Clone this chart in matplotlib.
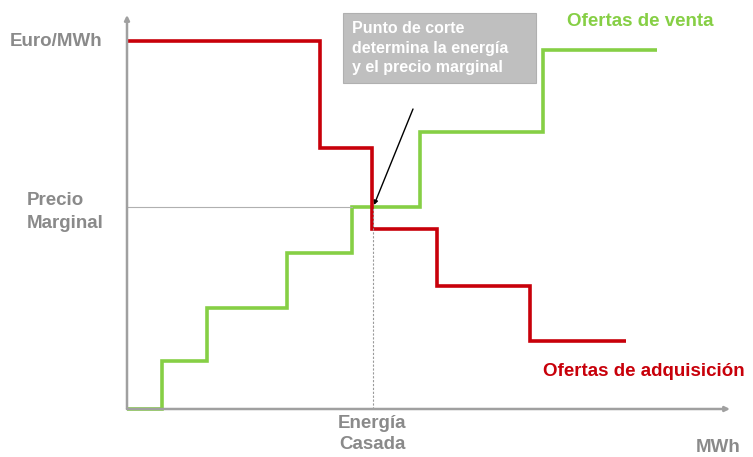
import matplotlib

matplotlib.use("Agg")
import matplotlib.pyplot as plt
from matplotlib.patches import Rectangle

plt.rcParams["font.family"] = ["Liberation Sans", "DejaVu Sans"]

# step curves (x = energy edges, y = price levels), units
venta_x = [0, 35, 80, 160, 225, 293, 416, 530]
venta_y = [0, 48, 101, 156, 202, 277, 359]
adq_x = [0, 193, 245, 310, 403, 499]
adq_y = [368, 261, 180, 123, 68]
precio_marginal = 202
energia_casada = 246

red = "#c8000a"
green = "#86cf45"
grey_txt = "#8a8a8a"

fig = plt.figure(figsize=(7.53, 4.57), dpi=100)
ax = fig.add_axes([0, 0, 1, 1])
ax.set_xlim(-127, 626)
ax.set_ylim(-48, 409)
ax.axis("off")

# axes with arrows
ax.annotate("", xy=(0, 394), xytext=(0, 0),
            arrowprops=dict(arrowstyle="-|>", color="#a0a0a0", lw=1.8,
                            mutation_scale=7, shrinkA=0, shrinkB=0))
ax.annotate("", xy=(603, 0), xytext=(0, 0),
            arrowprops=dict(arrowstyle="-|>", color="#a0a0a0", lw=1.8,
                            mutation_scale=7, shrinkA=0, shrinkB=0))

# guide lines
ax.plot([0, venta_x[4]], [precio_marginal, precio_marginal], color="#b0b0b0", lw=0.8)
ax.plot([energia_casada, energia_casada], [0, precio_marginal], color="#9a9a9a",
        lw=0.8, ls=(0, (2, 1.5)))

# curves
ax.stairs(venta_y, venta_x, color=green, lw=2.6, baseline=None)
ax.stairs(adq_y, adq_x, color=red, lw=2.6, baseline=None)

# pointer to the crossing point
ax.annotate("", xy=(energia_casada + 1, precio_marginal + 2), xytext=(286, 300),
            arrowprops=dict(arrowstyle="-|>", color="black", lw=1.0,
                            mutation_scale=6, shrinkA=0, shrinkB=0))

# note box
ax.add_patch(Rectangle((216, 326), 193, 70, fc="#bfbfbf", ec="#b0b0b0", lw=0.8))
ax.text(225, 361, "Punto de corte\ndetermina la energía\ny el precio marginal",
        color="white", fontsize=11.5, fontweight="bold", ha="left", va="center",
        linespacing=1.35)

ax.text(-117, 368, "Euro/MWh", color=grey_txt, fontsize=13.5, fontweight="bold",
        ha="left", va="center")
ax.text(-100, 197, "Precio\nMarginal", color=grey_txt, fontsize=13.5,
        fontweight="bold", ha="left", va="center", linespacing=1.4)
ax.text(energia_casada - 1, -25, "Energía\nCasada", color=grey_txt, fontsize=13.5,
        fontweight="bold", ha="center", va="center", linespacing=1.3)
ax.text(614, -38, "MWh", color=grey_txt, fontsize=13.5, fontweight="bold",
        ha="right", va="center")
ax.text(440, 388, "Ofertas de venta", color=green, fontsize=13.5,
        fontweight="bold", ha="left", va="center")
ax.text(416, 37, "Ofertas de adquisición", color=red, fontsize=13.5,
        fontweight="bold", ha="left", va="center")

fig.savefig("out.png", dpi=100)
